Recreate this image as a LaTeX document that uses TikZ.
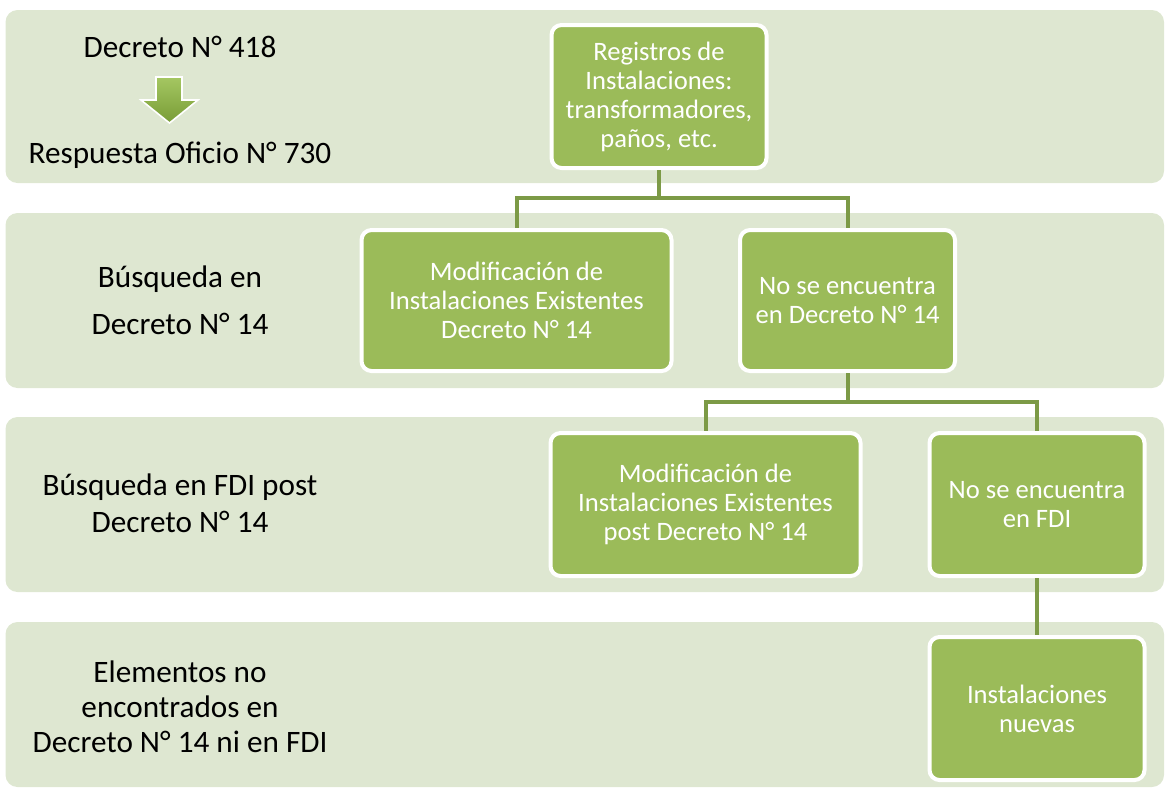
\documentclass[tikz,border=0pt]{standalone}
\usepackage{fontspec}
\setmainfont{Carlito}
\usepackage{tikz}
\usetikzlibrary{positioning, arrows.meta}
\definecolor{bandgreen}{RGB}{222,231,209}
\definecolor{boxgreen}{RGB}{155,187,89}
\definecolor{linkgreen}{RGB}{124,154,70}
\definecolor{arrowtop}{RGB}{165,199,98}
\definecolor{arrowbottom}{RGB}{120,156,54}
\tikzset{
    band/.style={fill=bandgreen, rounded corners=6pt}, % the light rows behind everything
    stage/.style={rectangle, rounded corners=5pt, fill=boxgreen, draw=white, line width=2pt, text=white, align=center, inner sep=1pt, minimum width=107.5pt, minimum height=71.5pt, font=\fontsize{13.3}{14.5}\selectfont}, % green boxes
    wide/.style={minimum width=155pt}, % for the longer boxes
    tag/.style={align=center, anchor=base, font=\fontsize{15.6}{18.5}\selectfont}, % row titles on the left, base is the last line
    link/.style={draw=linkgreen, line width=2pt}, % elbow connectors
}

\begin{document}
\begin{tikzpicture}[x=0.5pt, y=-0.5pt]
        \useasboundingbox (0,0) rectangle (1165,789);
        \fill[band] (5.5,10) rectangle (1164,183);
        \fill[band] (5.5,213) rectangle (1164,388);
        \fill[band] (5.5,417) rectangle (1164,592);
        \fill[band] (5.5,622) rectangle (1164,787);

        \node[tag] (l0) at (180,57) {Decreto N° 418};
        \node[tag] (l0-below) at (180,163) {Respuesta Oficio N° 730};
        \shade[top color=arrowtop, bottom color=arrowbottom, draw=white, line width=0.8pt] (156,77) -- (182,77) -- (182,100) -- (198,100) -- (169.5,123) -- (141,100) -- (156,100) -- cycle;
        \node[tag, font=\fontsize{15.6}{23.5}\selectfont] (l1) at (180,334) {Búsqueda en\\Decreto N° 14};
        \node[tag] (l2) at (180,532) {Búsqueda en FDI post\\Decreto N° 14};
        \node[tag, font=\fontsize{15.6}{17.5}\selectfont] (l3) at (180,752) {Elementos no\\encontrados en\\Decreto N° 14 ni en FDI};

        \node[stage] (b0) at (659,96.5) {Registros de\\Instalaciones:\\transformadores,\\paños, etc.};
        \node[stage, wide, minimum height=70.5pt] (b1) at (516.5,300.5) {Modificación de\\Instalaciones Existentes\\Decreto N° 14};
        \node[stage, minimum height=70.5pt] (b2) at (847.5,300.5) {No se encuentra\\en Decreto N° 14};
        \node[stage, wide] (b3) at (705.5,504.5) {Modificación de\\Instalaciones Existentes\\post Decreto N° 14};
        \node[stage] (b4) at (1037,504.5) {No se encuentra\\en FDI};
        \node[stage, below=28.5pt of b4] (b5) {Instalaciones\\nuevas};

        \draw[link] (b0.south) -- ++(0,28) -| (b1.north);
        \draw[link] (b0.south) -- ++(0,28) -| (b2.north);
        \draw[link] (b2.south) -- ++(0,29) -| (b3.north);
        \draw[link] (b2.south) -- ++(0,29) -| (b4.north);
        \draw[link] (b4) -- (b5);
    \end{tikzpicture}
\end{document}
